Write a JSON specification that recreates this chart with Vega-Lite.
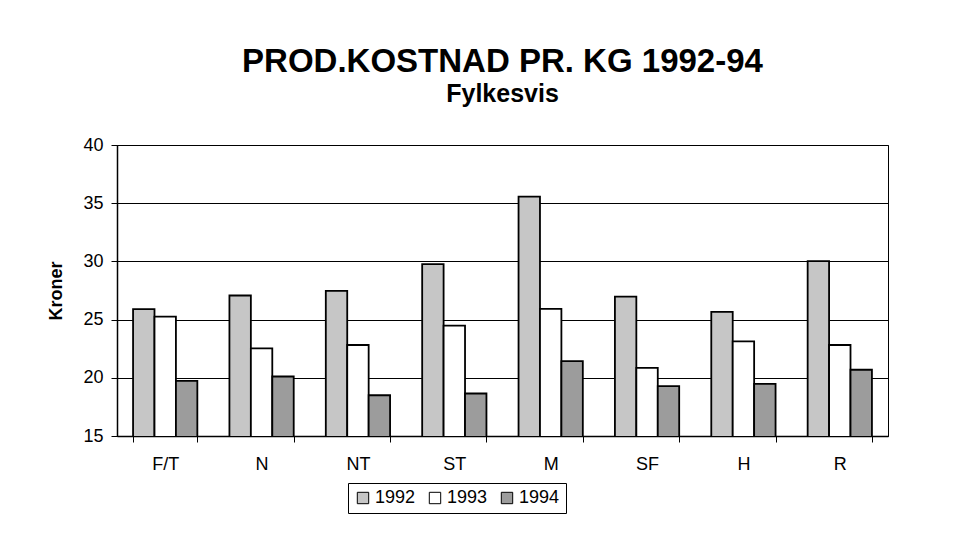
{
  "$schema": "https://vega.github.io/schema/vega-lite/v6.json",
  "width": 771,
  "height": 291,
  "autosize": {"type": "none"},
  "padding": {"left": 117, "top": 145, "right": 66, "bottom": 99},
  "background": "white",
  "title": {
    "text": "PROD.KOSTNAD PR. KG 1992-94",
    "subtitle": "Fylkesvis",
    "font": "Liberation Sans",
    "subtitleFont": "Liberation Sans",
    "fontSize": 33,
    "fontWeight": "bold",
    "subtitleFontSize": 25,
    "subtitleFontWeight": "bold",
    "subtitleColor": "black",
    "color": "black",
    "anchor": "middle",
    "offset": 29,
    "subtitlePadding": 3
  },
  "data": {
    "values": [
      {"fylke": "F/T", "year": "1992", "value": 25.9},
      {"fylke": "F/T", "year": "1993", "value": 25.26},
      {"fylke": "F/T", "year": "1994", "value": 19.74},
      {"fylke": "N", "year": "1992", "value": 27.07},
      {"fylke": "N", "year": "1993", "value": 22.53},
      {"fylke": "N", "year": "1994", "value": 20.11},
      {"fylke": "NT", "year": "1992", "value": 27.47},
      {"fylke": "NT", "year": "1993", "value": 22.82},
      {"fylke": "NT", "year": "1994", "value": 18.5},
      {"fylke": "ST", "year": "1992", "value": 29.77},
      {"fylke": "ST", "year": "1993", "value": 24.48},
      {"fylke": "ST", "year": "1994", "value": 18.65},
      {"fylke": "M", "year": "1992", "value": 35.57},
      {"fylke": "M", "year": "1993", "value": 25.92},
      {"fylke": "M", "year": "1994", "value": 21.44},
      {"fylke": "SF", "year": "1992", "value": 26.98},
      {"fylke": "SF", "year": "1993", "value": 20.86},
      {"fylke": "SF", "year": "1994", "value": 19.28},
      {"fylke": "H", "year": "1992", "value": 25.66},
      {"fylke": "H", "year": "1993", "value": 23.13},
      {"fylke": "H", "year": "1994", "value": 19.48},
      {"fylke": "R", "year": "1992", "value": 30.03},
      {"fylke": "R", "year": "1993", "value": 22.82},
      {"fylke": "R", "year": "1994", "value": 20.69}
    ]
  },
  "mark": {"type": "bar", "stroke": "black", "strokeWidth": 1.8, "clip": true},
  "encoding": {
    "x": {
      "field": "fylke",
      "type": "nominal",
      "sort": null,
      "scale": {"paddingInner": 0.333, "paddingOuter": 0.1667},
      "axis": {
        "title": null,
        "labelAngle": 0,
        "tickBand": "extent",
        "tickSize": 6,
        "labelPadding": 13,
        "labelFont": "Liberation Sans",
        "labelFontSize": 18,
        "labelColor": "black",
        "domainColor": "black",
        "domainWidth": 1.5,
        "tickColor": "black",
        "grid": false
      }
    },
    "xOffset": {"field": "year", "type": "nominal", "scale": {"paddingInner": 0, "paddingOuter": 0}},
    "y": {
      "field": "value",
      "type": "quantitative",
      "scale": {"domain": [15, 40], "zero": false, "nice": false},
      "axis": {
        "title": "Kroner",
        "titleFont": "Liberation Sans",
        "titleFontSize": 18,
        "titleFontWeight": "bold",
        "titleColor": "black",
        "titlePadding": 17,
        "values": [15, 20, 25, 30, 35, 40],
        "labelFont": "Liberation Sans",
        "labelFontSize": 18,
        "labelColor": "black",
        "labelPadding": 8,
        "tickSize": 6,
        "tickColor": "black",
        "domainColor": "black",
        "domainWidth": 1.5,
        "gridColor": "black",
        "gridOpacity": 1,
        "gridWidth": 1
      }
    },
    "fill": {
      "field": "year",
      "type": "nominal",
      "scale": {"domain": ["1992", "1993", "1994"], "range": ["#c6c6c6", "#ffffff", "#9c9c9c"]},
      "legend": {
        "title": null,
        "orient": "none",
        "direction": "horizontal",
        "legendX": 231,
        "legendY": 338,
        "strokeColor": "black",
        "padding": 6,
        "symbolType": "square",
        "symbolSize": 130,
        "symbolStrokeColor": "black",
        "symbolStrokeWidth": 1,
        "labelFont": "Liberation Sans",
        "labelFontSize": 18,
        "labelColor": "black",
        "labelOffset": 3,
        "columnPadding": 10
      }
    }
  },
  "config": {
    "view": {"stroke": "black", "strokeWidth": 1}
  }
}
